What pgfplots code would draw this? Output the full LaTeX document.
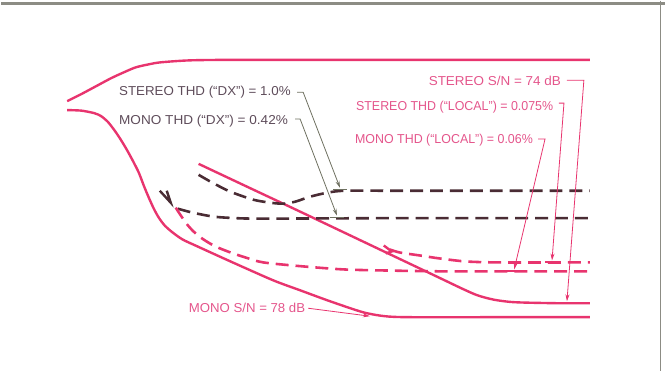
\documentclass[border=0pt]{standalone}
\usepackage{fontspec}
\setmainfont{Liberation Sans}
\usepackage{pgfplots}
\pgfplotsset{compat=1.18}
\usetikzlibrary{arrows.meta}
\definecolor{pk}{HTML}{E8346E}
\definecolor{pktxt}{HTML}{E4558B}
\definecolor{dk}{HTML}{4A2C34}
\definecolor{dktxt}{HTML}{5E4C5A}
\definecolor{ldr}{HTML}{6E7060}
\definecolor{frm}{HTML}{8C8C84}
\tikzset{
  lbl/.style={anchor=west, inner sep=0pt, font=\fontsize{13}{15}\selectfont},
  solidc/.style={pk, line width=2.4pt, smooth, tension=0.45, mark=none},
  dashc/.style={line width=2.6pt, dash pattern=on 13pt off 7pt, smooth, tension=0.45, mark=none},
  leader/.style={line width=0.8pt, mark=none, -{Stealth[length=7pt,width=4pt]}},
  tbar/.style={line width=1.4pt, mark=none}}
\begin{document}
\begin{tikzpicture}
\begin{axis}[scale only axis, width=666pt, height=372pt,
  xmin=0, xmax=666, ymin=0, ymax=372, y dir=reverse,
  axis lines=none, clip=false]
\path (rel axis cs:0,0) rectangle (rel axis cs:1,1);
% frame
\addplot[frm, line width=3pt, mark=none] coordinates {(0,2.5) (666,2.5)};
\addplot[frm, line width=1.2pt, mark=none] coordinates {(662,0) (662,372)};
% top solid curve
\addplot[solidc] coordinates {(66,101) (80,94) (95,86) (110,78) (123,72) (135,67) (148,64) (160,62) (190,60) (240,59.5) (400,59.5) (591,59.5)};
% mono S/N
\addplot[solidc] coordinates {(66,110) (80,110.5) (93,113) (100,116) (107,122) (114,131) (120,140) (126,150) (132,161) (138,173) (143,186) (148,198) (153,209) (158,218) (164,226) (172,233) (182,240) (197,247) (230,262) (273,281) (300,291) (330,302) (363,313) (385,317) (410,318) (500,318) (591,318)};
% stereo S/N
\addplot[solidc] coordinates {(198,164) (250,188.5) (300,212) (380,250) (440,278.5) (462,289) (478,296) (495,300.5) (516,303) (560,304) (591,304)};
% stereo THD DX (dark dashed upper)
\addplot[dashc, dk] coordinates {(198,175) (212,183) (230,192) (253,200) (270,203) (283,204) (295,202) (310,197) (327,193) (345,191) (400,191) (591,191)};
% mono THD DX (dark dashed lower)
\addplot[dashc, dk] coordinates {(177,209) (192,213) (213,217) (235,218.5) (263,219) (400,218.5) (591,218.5)};
\addplot[dk, line width=2.4pt, mark=none] coordinates {(159,191) (170,203) (166,191)};
% stereo THD local (pink dashed upper)
\addplot[dashc, pk] coordinates {(390,250) (400,253) (420,256) (440,259) (466,262) (500,263) (591,263)};
\addplot[pk, line width=2.4pt, mark=none] coordinates {(384,246) (392,252) (386,254)};
% mono THD local (pink dashed lower)
\addplot[dashc, pk] coordinates {(175,208) (185,223) (193,232) (203,240) (215,247) (230,253) (245,258) (263,263) (303,267) (343,270) (380,271) (450,272) (591,272)};
% leaders
\addplot[leader, ldr] coordinates {(297,92) (303,92) (340,188)};
\addplot[tbar, ldr] coordinates {(333,190) (347,190)};
\addplot[leader, ldr] coordinates {(295,119) (300,119) (337,216)};
\addplot[tbar, ldr] coordinates {(330,218) (344,218)};
\addplot[leader, pk] coordinates {(568,80) (585,80) (568,302)};
\addplot[leader, pk] coordinates {(560,103) (565,103) (553,261)};
\addplot[tbar, pk] coordinates {(546,262.5) (560,262.5)};
\addplot[leader, pk] coordinates {(539,139) (546,139) (515,270)};
\addplot[tbar, pk] coordinates {(508,271.5) (522,271.5)};
\addplot[leader, pk] coordinates {(308,309) (370,317)};
% labels
\node[lbl, text=dktxt] at (axis cs:118,92) {\scalebox{1.03}[1]{STEREO THD (``DX'') = 1.0\%}};
\node[lbl, text=dktxt] at (axis cs:118,121) {\scalebox{1.05}[1]{MONO THD (``DX'') = 0.42\%}};
\node[lbl, text=pktxt] at (axis cs:429,81) {\scalebox{1.04}[1]{STEREO S/N = 74 dB}};
\node[lbl, text=pktxt] at (axis cs:356,107) {\scalebox{0.96}[1]{STEREO THD (``LOCAL'') = 0.075\%}};
\node[lbl, text=pktxt] at (axis cs:355,140) {\scalebox{0.96}[1]{MONO THD (``LOCAL'') = 0.06\%}};
\node[lbl, text=pktxt] at (axis cs:188,309) {\scalebox{1.02}[1]{MONO S/N = 78 dB}};
\end{axis}
\end{tikzpicture}
\end{document}
